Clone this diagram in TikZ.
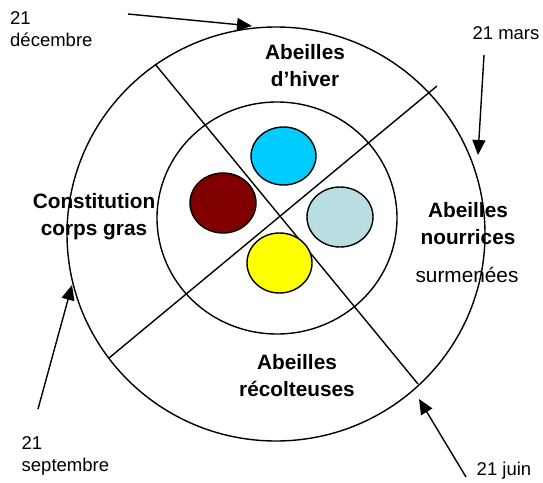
\documentclass[tikz,border=0pt]{standalone}
\usepackage{fontspec}
\setmainfont{Liberation Sans}
\usetikzlibrary{arrows.meta}

\definecolor{ciel}{RGB}{0,204,255}
\definecolor{brun}{RGB}{128,0,0}
\definecolor{glace}{RGB}{185,222,226}
\definecolor{jaune}{RGB}{255,255,0}

\tikzset{
  trait/.style={line width=1.4pt},
  saison/.style={inner sep=0pt, align=center, font=\bfseries\fontsize{20.8}{27}\selectfont},
  datelbl/.style={inner sep=0pt, align=left, font=\fontsize{18.5}{22.5}\selectfont},
  fleche/.style={trait, -{Triangle[length=15pt,width=13pt]}},
  rond/.style={trait, draw=black},
}

\begin{document}
\begin{tikzpicture}[x=1pt,y=-1pt]
      \useasboundingbox (0,0) rectangle (543,482);

      %% les deux cercles et la croix
      \begin{scope}[trait]
        \draw (276,234) ellipse [x radius=209pt, y radius=207pt];
        \draw (277,218) ellipse [x radius=120pt, y radius=116pt];
        \coordinate (nw) at (155,64);
        \coordinate (se) at (418,384);
        \coordinate (ne) at (437,86);
        \coordinate (sw) at (109,358);
        \draw (nw) -- (se);
        \draw (ne) -- (sw);
      \end{scope}

      %% le couvain
      \begin{scope}
        \draw[rond, fill=ciel] (283.5,156) ellipse [x radius=32.5pt, y radius=29pt];
        \draw[rond, fill=brun] (223,203) ellipse [x radius=33pt, y radius=30pt];
        \draw[rond, fill=glace] (340,217) ellipse [x radius=33pt, y radius=30pt];
        \draw[rond, fill=jaune] (279.5,263) ellipse [x radius=32.5pt, y radius=30pt];
      \end{scope}

      %% les saisons
      \node[saison] (hiver) at (305,66) {Abeilles\\d’hiver};
      \node[saison] (gras) at (94,217) {Constitution\\corps gras};
      \node[saison] (nourr) at (468,224) {Abeilles\\nourrices};
      \node[inner sep=0pt, font=\fontsize{20.8}{27}\selectfont] (surm) at (467,275) {surmenées};
      \node[saison] (recolt) at (297,376) {Abeilles\\récolteuses};

      %% les dates
      \node[datelbl, anchor=west] (dec) at (10,29) {21\\décembre};
      \node[datelbl] (mars) at (506,33) {21 mars};
      \node[datelbl, anchor=west] (sept) at (21.5,456) {21\\septembre};
      \node[datelbl] (juin) at (504,471) {21 juin};

      \coordinate (dec-a) at (128,14);
      \coordinate (dec-b) at (252,26);
      \coordinate (mars-a) at (484,55);
      \coordinate (mars-b) at (478,155);
      \coordinate (sept-a) at (38,409);
      \coordinate (sept-b) at (72,285);
      \coordinate (juin-a) at (466,477);
      \coordinate (juin-b) at (419,399);
      \draw[fleche] (dec-a) -- (dec-b);
      \draw[fleche] (mars-a) -- (mars-b);
      \draw[fleche] (sept-a) -- (sept-b);
      \draw[fleche] (juin-a) -- (juin-b);
\end{tikzpicture}
\end{document}
